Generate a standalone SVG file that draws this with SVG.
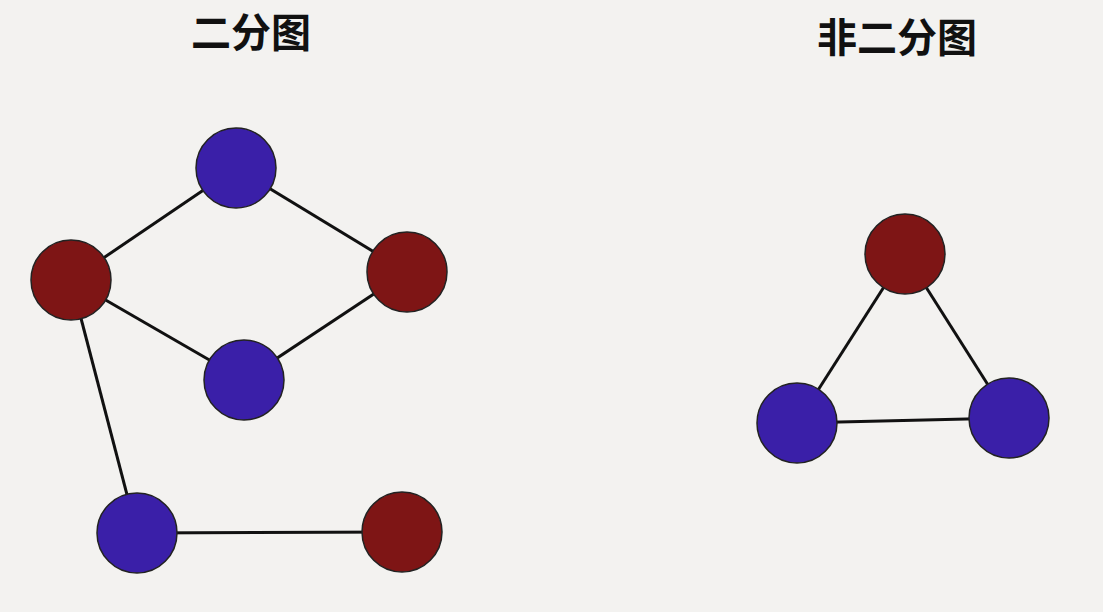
<svg xmlns="http://www.w3.org/2000/svg" width="1103" height="612" viewBox="0 0 1103 612">
<style>
.title{font-family:"Noto Sans CJK SC","Noto Sans",sans-serif;font-weight:bold;font-size:40px;fill:#111;text-anchor:middle}
.edge{stroke:#111;stroke-width:3;fill:none}
.red{fill:#7e1515;stroke:#222;stroke-width:1.5}
.blue{fill:#3a1fa8;stroke:#222;stroke-width:1.5}
</style>
<rect width="1103" height="612" fill="#f3f2f0"/>
<text class="title" x="251" y="47">二分图</text>
<text class="title" x="897" y="52">非二分图</text>
<g id="connectors">
<line class="edge" x1="236" y1="168" x2="71" y2="280"/>
<line class="edge" x1="236" y1="168" x2="407" y2="272"/>
<line class="edge" x1="71" y1="280" x2="244" y2="380"/>
<line class="edge" x1="407" y1="272" x2="244" y2="380"/>
<line class="edge" x1="71" y1="280" x2="137" y2="533"/>
<line class="edge" x1="137" y1="533" x2="402" y2="532"/>
<line class="edge" x1="905" y1="254" x2="797" y2="423"/>
<line class="edge" x1="905" y1="254" x2="1009" y2="418"/>
<line class="edge" x1="797" y1="423" x2="1009" y2="418"/>
</g>
<g id="b-top"><circle class="blue" cx="236" cy="168" r="40"/></g>
<g id="r-left"><circle class="red" cx="71" cy="280" r="40"/></g>
<g id="r-right"><circle class="red" cx="407" cy="272" r="40"/></g>
<g id="b-mid"><circle class="blue" cx="244" cy="380" r="40"/></g>
<g id="b-bottom"><circle class="blue" cx="137" cy="533" r="40"/></g>
<g id="r-bottom"><circle class="red" cx="402" cy="532" r="40"/></g>
<g id="t-red"><circle class="red" cx="905" cy="254" r="40"/></g>
<g id="t-blue-left"><circle class="blue" cx="797" cy="423" r="40"/></g>
<g id="t-blue-right"><circle class="blue" cx="1009" cy="418" r="40"/></g>
</svg>
